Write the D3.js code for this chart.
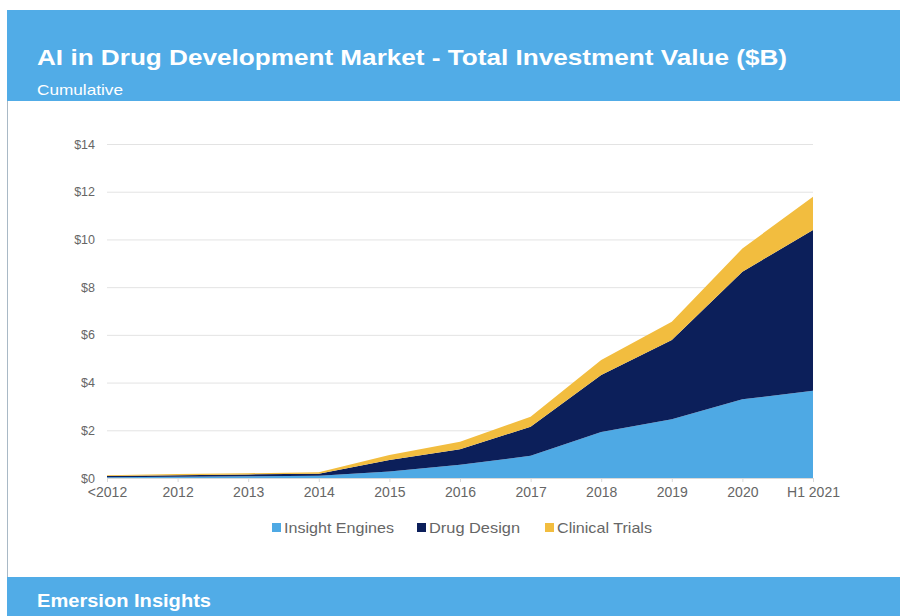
<!DOCTYPE html>
<html>
<head>
<meta charset="utf-8">
<script src="https://cdn.jsdelivr.net/npm/d3@7"></script>
<style>
  html, body { margin: 0; padding: 0; background: #ffffff; }
  svg { display: block; }
  text { font-family: "Liberation Sans", Arial, sans-serif; }
</style>
</head>
<body>
<svg id="chart" width="900" height="616"></svg>
<script>
// ---- Data ----
const categories = ["<2012", "2012", "2013", "2014", "2015", "2016", "2017", "2018", "2019", "2020", "H1 2021"];
const seriesNames = ["Insight Engines", "Drug Design", "Clinical Trials"];
const insightEngines = [0.03, 0.05, 0.07, 0.09, 0.27, 0.56, 0.93, 1.93, 2.46, 3.30, 3.66];
const drugDesign     = [0.05, 0.07, 0.08, 0.09, 0.48, 0.64, 1.22, 2.39, 3.32, 5.35, 6.73];
const clinicalTrials = [0.04, 0.05, 0.05, 0.06, 0.21, 0.32, 0.42, 0.63, 0.77, 0.97, 1.40];
const yTicks = [0, 2, 4, 6, 8, 10, 12, 14];
const seriesColors = ["#4ea9e4", "#0c1f5a", "#f2bd3f"];

const titleText = "AI in Drug Development Market - Total Investment Value ($B)";
const subtitleText = "Cumulative";
const footerText = "Emersion Insights";

// ---- Build table ----
const table = categories.map((c, i) => ({
  cat: c,
  "Insight Engines": insightEngines[i],
  "Drug Design": drugDesign[i],
  "Clinical Trials": clinicalTrials[i]
}));

const svg = d3.select("#chart");
const W = 900, H = 616;
const headerColor = "#51ace7";
const axisTextColor = "#666666";

// Frame
svg.append("rect").attr("x", 7).attr("y", 101).attr("width", W - 7).attr("height", 476)
  .attr("fill", "#ffffff");
svg.append("line").attr("x1", 7.5).attr("x2", 7.5).attr("y1", 10).attr("y2", H)
  .attr("stroke", "#a9b9c6").attr("stroke-width", 1);

// Header
svg.append("rect").attr("x", 7).attr("y", 10).attr("width", W - 7).attr("height", 91)
  .attr("fill", headerColor);
svg.append("text").attr("x", 37).attr("y", 65)
  .attr("fill", "#ffffff").attr("font-size", 22).attr("font-weight", "bold")
  .attr("textLength", 750).attr("lengthAdjust", "spacingAndGlyphs")
  .text(titleText);
svg.append("text").attr("x", 37).attr("y", 95)
  .attr("fill", "#ffffff").attr("font-size", 15)
  .attr("textLength", 86).attr("lengthAdjust", "spacingAndGlyphs")
  .text(subtitleText);

// Footer
svg.append("rect").attr("x", 7).attr("y", 577).attr("width", W - 7).attr("height", H - 577)
  .attr("fill", headerColor);
svg.append("text").attr("x", 37).attr("y", 607)
  .attr("fill", "#ffffff").attr("font-size", 18).attr("font-weight", "bold")
  .attr("textLength", 174).attr("lengthAdjust", "spacingAndGlyphs")
  .text(footerText);

// ---- Scales ----
const x = d3.scalePoint().domain(categories).range([107, 813]);
const y = d3.scaleLinear().domain([0, 14]).range([478, 144]);

// Gridlines
const g = svg.append("g");
g.selectAll("line.grid").data(yTicks.filter(t => t > 0)).join("line")
  .attr("class", "grid")
  .attr("x1", 107).attr("x2", 813)
  .attr("y1", d => y(d) + 0.5).attr("y2", d => y(d) + 0.5)
  .attr("stroke", "#e3e3e3").attr("stroke-width", 1);

// Y axis
const yAxis = d3.axisLeft(y).tickValues(yTicks).tickSize(0).tickPadding(12)
  .tickFormat(d => "$" + d);
const yg = svg.append("g").attr("transform", "translate(107,0)").call(yAxis);
yg.select(".domain").remove();
yg.selectAll("text").attr("fill", axisTextColor).attr("font-size", 12.5)
  .attr("font-family", "Liberation Sans, Arial, sans-serif");

// Stacked areas
const stack = d3.stack().keys(seriesNames);
const layers = stack(table);
const area = d3.area()
  .x(d => x(d.data.cat))
  .y0(d => y(d[0]))
  .y1(d => y(d[1]))
  .curve(d3.curveLinear);
svg.append("g").selectAll("path").data(layers).join("path")
  .attr("d", area)
  .attr("fill", (d, i) => seriesColors[i]);

// X axis
const xAxis = d3.axisBottom(x).tickSize(4).tickPadding(5);
const xg = svg.append("g").attr("transform", "translate(0,478)").call(xAxis);
xg.select(".domain").attr("stroke", "#d9d9d9").attr("d", "M107,0.5H813");
xg.selectAll(".tick line").attr("stroke", "#d9d9d9");
xg.selectAll("text").attr("fill", axisTextColor).attr("font-size", 14)
  .attr("font-family", "Liberation Sans, Arial, sans-serif");

// Legend
const legendItems = [
  { name: seriesNames[0], color: seriesColors[0], x: 272, w: 110 },
  { name: seriesNames[1], color: seriesColors[1], x: 417, w: 91 },
  { name: seriesNames[2], color: seriesColors[2], x: 545, w: 95 }
];
const lg = svg.append("g");
legendItems.forEach(it => {
  lg.append("rect").attr("x", it.x).attr("y", 523).attr("width", 9).attr("height", 9)
    .attr("fill", it.color);
  lg.append("text").attr("x", it.x + 12).attr("y", 533)
    .attr("fill", axisTextColor).attr("font-size", 15)
    .attr("textLength", it.w).attr("lengthAdjust", "spacingAndGlyphs")
    .text(it.name);
});
</script>
</body>
</html>
